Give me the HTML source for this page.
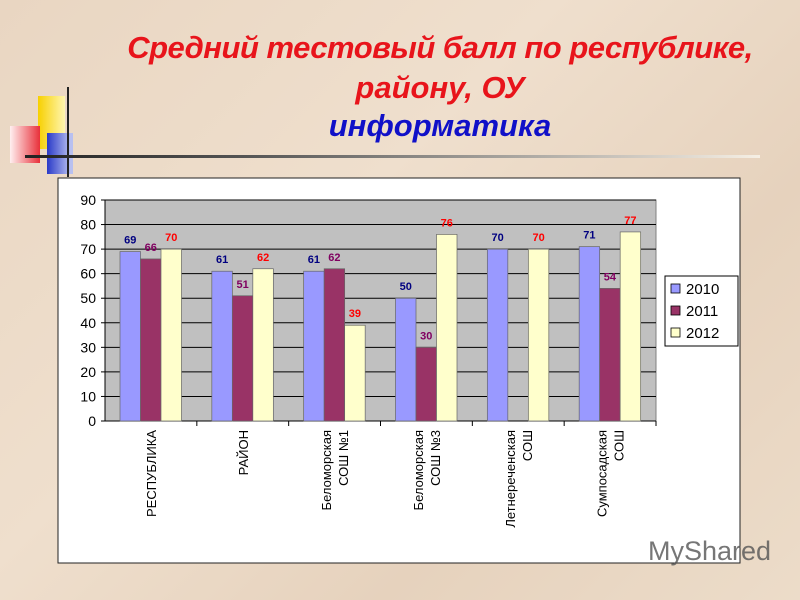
<!DOCTYPE html>
<html><head><meta charset="utf-8"><style>
html,body{margin:0;padding:0}
body{width:800px;height:600px;overflow:hidden;background:linear-gradient(135deg,#e9d6c2,#efdfcd 40%,#e6d2bd 70%,#ecdcc9);position:relative;font-family:"Liberation Sans",sans-serif}
.t{position:absolute;left:0;width:800px;text-align:center;font-weight:bold;font-style:italic;font-family:"Liberation Sans","DejaVu Sans",sans-serif}
</style></head><body>
<div class="t" style="top:30px;left:40px;font-size:31px;color:#e8141b;letter-spacing:-0.5px">Средний тестовый балл по республике,</div>
<div class="t" style="top:70px;left:40px;font-size:31px;color:#e8141b">району, ОУ</div>
<div class="t" style="top:108px;left:40px;font-size:31px;color:#1010c8">информатика</div>
<div style="position:absolute;left:38px;top:96px;width:27px;height:53px;background:linear-gradient(90deg,#f7d000,#fff6b0)"></div>
<div style="position:absolute;left:10px;top:126px;width:30px;height:37px;background:linear-gradient(90deg,#fff0f0,#e8303a)"></div>
<div style="position:absolute;left:47px;top:133px;width:26px;height:41px;background:linear-gradient(90deg,#2a3ac8,#b8c0f0 90%)"></div>
<div style="position:absolute;left:67px;top:87px;width:2px;height:90px;background:#222"></div>
<div style="position:absolute;left:25px;top:155px;width:735px;height:3px;background:linear-gradient(90deg,#222,#555 30%,#f6efe4)"></div>
<svg width="800" height="600" style="position:absolute;left:0;top:0" id="svg"></svg>
<div style="position:absolute;left:648px;top:536px;font-size:27px;color:#555;opacity:.8">MyShared</div>
<script>
const categories=[["РЕСПУБЛИКА"],["РАЙОН"],["Беломорская","СОШ №1"],["Беломорская","СОШ №3"],["Летнереченская","СОШ"],["Сумпосадская","СОШ"]];
const s2010=[69,61,61,50,70,71];
const s2011=[66,51,62,30,null,54];
const s2012=[70,62,39,76,70,77];
const seriesNames=["2010","2011","2012"];
const ticks=[0,10,20,30,40,50,60,70,80,90];
const NS="http://www.w3.org/2000/svg";
const svg=document.getElementById('svg');
const X0=105,X1=656,Y0=421,Y1=200,VMAX=90;
const y=v=>Y0-(v/VMAX)*(Y0-Y1);
const gw=(X1-X0)/categories.length;
function el(t,a,p){const e=document.createElementNS(NS,t);for(const k in a)e.setAttribute(k,a[k]);(p||svg).appendChild(e);return e;}
let r=el('rect',{x:58,y:178,width:682,height:385,fill:'#fff',stroke:'#222','stroke-width':1});


r=el('rect',{x:X0,y:Y1,width:X1-X0,height:Y0-Y1,fill:'#c0c0c0',stroke:'#808080'});


ticks.forEach(t=>{
 const yy=y(t);
 if(t>0){const l=el('line',{x1:X0,x2:X1,y1:yy,y2:yy,stroke:'#000','stroke-width':1});
 
 }
 el('line',{x1:X0-4,x2:X0,y1:yy,y2:yy,stroke:'#000'});
 const tx=el('text',{x:X0-9,y:yy+5,'text-anchor':'end','font-size':14,fill:'#000'});
 tx.textContent=t;
 
 
});
el('line',{x1:X0,x2:X0,y1:Y1,y2:Y0,stroke:'#000'});
el('line',{x1:X0,x2:X1,y1:Y0,y2:Y0,stroke:'#000'});
const series=[s2010,s2011,s2012];
const fills=['#9999ff','#993366','#ffffcc'];
const lab=['#000080','#800060','#ff0000'];
const bw=20.5;
categories.forEach((c,i)=>{
 const gx=X0+i*gw;
 el('line',{x1:gx+gw,x2:gx+gw,y1:Y0,y2:Y0+5,stroke:'#000'});
 series.forEach((s,j)=>{
  const v=s[i]; if(v==null) return;
  const bx=gx+15+j*bw;
  const b=el('rect',{x:bx,y:y(v),width:bw,height:Y0-y(v),fill:fills[j],stroke:'#666','stroke-width':0.7});
  
  
  const t=el('text',{x:bx+bw/2,y:y(v)-8,'text-anchor':'middle','font-size':11,'font-weight':'bold',fill:lab[j]});
  t.textContent=v;
  
  
 });
 const cx=gx+gw/2;
 c.forEach((line,k)=>{
  const n=c.length;
  const lx=cx+5+(k-(n-1)/2)*17;
  const t=el('text',{x:0,y:0,transform:`translate(${lx},430) rotate(-90)`,'text-anchor':'end','font-size':13,fill:'#000'});
  t.textContent=line;
  
  
 });
});
const lg=el('rect',{x:665,y:276,width:73,height:70,fill:'#fff',stroke:'#000'});


seriesNames.forEach((n,j)=>{
 const yy=284+j*22;
 el('rect',{x:671,y:yy,width:9,height:9,fill:fills[j],stroke:'#000','stroke-width':0.8});
 const t=el('text',{x:686,y:yy+10,'font-size':15,fill:'#000'});
 t.textContent=n;
 
 
});
</script>
</body></html>
